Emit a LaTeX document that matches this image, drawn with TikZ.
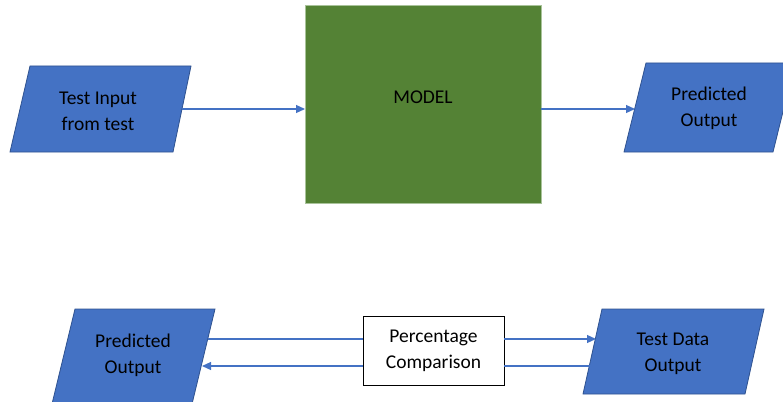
\documentclass[tikz,border=0pt]{standalone}
\usepackage{fontspec}
\setmainfont{Carlito}
\usetikzlibrary{arrows.meta}

\definecolor{ioblue}{HTML}{4472C4}
\definecolor{ioedge}{HTML}{2F528F}
\definecolor{modelgreen}{HTML}{548235}
\definecolor{modeledge}{HTML}{A9C39A}

\tikzset{
  iobox/.style={fill=ioblue, draw=ioedge, line width=0.8pt},
  label/.style={align=center, font=\fontsize{19.5}{26}\selectfont, text=black},
  flow/.style={draw=ioblue, line width=1.2pt, -{Triangle[length=9pt,width=8pt]}},
  plain/.style={draw=ioblue, line width=1.2pt},
}

\begin{document}
\begin{tikzpicture}[x=1pt, y=-1pt]
  \useasboundingbox (0,0) rectangle (783,401);
  \begin{scope}
    \clip (0,0) rectangle (783,401);

    % --- top row: input -> model -> prediction ---
    \draw[iobox] (30,66) -- (191,66) -- (173,152) -- (10,152) -- cycle;
    \node[label] (testin) at (98,111) {Test Input\\from test};
    \coordinate (testinR) at (182,109);

    \draw[fill=modelgreen, draw=modeledge, line width=0.6pt] (305,5) rectangle (541,203);
    \node[label] (model) at (423,97) {MODEL};
    \coordinate (modelL) at (305,109);
    \coordinate (modelR) at (541,109);

    \draw[iobox] (646,63) -- (795,63) -- (773,152) -- (624,152) -- cycle;
    \node[label] (predtop) at (709,108) {Predicted\\Output};
    \coordinate (predtopL) at (635,109);

    \draw[flow] (testinR) -- (modelL);
    \draw[flow] (modelR) -- (predtopL);

    % --- bottom row: comparison of predicted and actual output ---
    \draw[iobox] (75,309) -- (215,309) -- (192,404) -- (52,404) -- cycle;
    \node[label] (predbot) at (133,355) {Predicted\\Output};

    \node[draw=black, fill=white, line width=0.8pt, minimum width=141pt, minimum height=69pt,
          label, inner sep=0pt] (cmp) at (433.5,350.5) {Percentage\\Comparison};

    \draw[iobox] (602,309) -- (764,309) -- (745,394) -- (583,394) -- cycle;
    \node[label] (testout) at (673,354) {Test Data\\Output};

    \coordinate (predbotA) at (208,339);
    \coordinate (predbotB) at (202,366);
    \coordinate (testoutA) at (596,339);
    \coordinate (testoutB) at (590,366);

    \draw[plain] (predbotA) -- (cmp.west |- predbotA);
    \draw[flow] (cmp.west |- predbotB) -- (predbotB);
    \draw[flow] (cmp.east |- testoutA) -- (testoutA);
    \draw[plain] (testoutB) -- (cmp.east |- testoutB);
  \end{scope}
\end{tikzpicture}
\end{document}
